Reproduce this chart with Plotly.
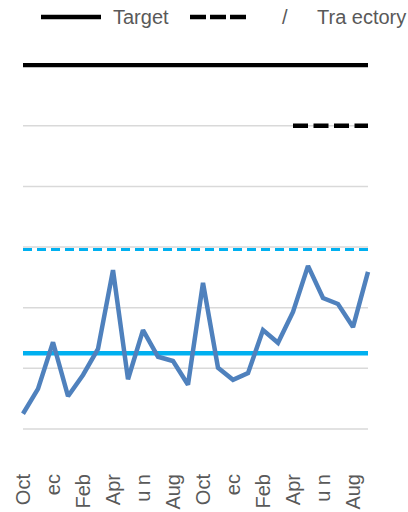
import plotly.graph_objects as go

# Monthly series, Oct through Sep of the following year (two years)
months = list(range(24))
actual = [0.25, 0.66, 1.43, 0.54, 0.89, 1.32, 2.62, 0.82, 1.63, 1.19, 1.12, 0.73,
          2.41, 1.01, 0.81, 0.92, 1.63, 1.42, 1.93, 2.69, 2.16, 2.06, 1.68, 2.59]
baseline_level = 1.25
interim_level = 2.96
target_level = 6.0
trajectory_level = 5.0
trajectory_start = 18

tick_positions = [0, 2, 4, 6, 8, 10, 12, 14, 16, 18, 20, 22]
tick_labels = ["Oct", "ec", "Feb", "Apr", "u n", "Aug",
               "Oct", "ec", "Feb", "Apr", "u n", "Aug"]
grid_levels = [0, 1, 2, 3, 4, 5, 6]

W, H = 408, 512
ML, MR, MT, MB = 20, 37, 53, 77
PW, PH = W - ML - MR, H - MT - MB
TEXT = "#595959"
FONT = "Liberation Sans, Arial, sans-serif"


def px(x):
    return (x - ML) / PW


def py(y):
    return (H - MB - y) / PH


fig = go.Figure()

fig.add_trace(go.Scatter(x=[months[0], months[-1]], y=[baseline_level] * 2, mode="lines",
                         line=dict(color="#00B0F0", width=4.5), hoverinfo="skip"))
fig.add_trace(go.Scatter(x=[months[0], months[-1]], y=[interim_level] * 2, mode="lines",
                         line=dict(color="#00B0F0", width=3, dash="9px,5px"), hoverinfo="skip"))
fig.add_trace(go.Scatter(x=[months[0], months[-1]], y=[target_level] * 2, mode="lines",
                         line=dict(color="#000000", width=4.3), name="Target"))
fig.add_trace(go.Scatter(x=[months[trajectory_start], months[-1]], y=[trajectory_level] * 2,
                         mode="lines", line=dict(color="#000000", width=4.3, dash="15px,5.5px"),
                         name="Trajectory"))
fig.add_trace(go.Scatter(x=months, y=actual, mode="lines",
                         line=dict(color="#4F81BD", width=4.5)))

shapes = []
for g in grid_levels:
    shapes.append(dict(type="line", xref="x", yref="y", x0=months[0], x1=months[-1], y0=g, y1=g,
                       line=dict(color="#D9D9D9", width=1.5), layer="below"))

# legend samples
shapes.append(dict(type="line", xref="paper", yref="paper", x0=px(41), x1=px(101),
                   y0=py(17), y1=py(17), line=dict(color="#000000", width=4.3)))
shapes.append(dict(type="line", xref="paper", yref="paper", x0=px(190), x1=px(246),
                   y0=py(17), y1=py(17), line=dict(color="#000000", width=4.3, dash="16px,4px")))

annotations = [
    dict(text="Target", xref="paper", yref="paper", x=px(111), y=py(17), xanchor="left",
         yanchor="middle", showarrow=False, font=dict(size=20, color=TEXT, family=FONT)),
    dict(text="/", xref="paper", yref="paper", x=px(285), y=py(17), xanchor="center",
         yanchor="middle", showarrow=False, font=dict(size=20, color=TEXT, family=FONT)),
    dict(text="Tra ectory", xref="paper", yref="paper", x=px(315), y=py(17), xanchor="left",
         yanchor="middle", showarrow=False, font=dict(size=20, color=TEXT, family=FONT)),
]

fig.update_layout(
    width=W, height=H,
    margin=dict(l=ML, r=MR, t=MT, b=MB, autoexpand=False),
    paper_bgcolor="white", plot_bgcolor="white",
    showlegend=False,
    shapes=shapes,
    annotations=annotations,
    xaxis=dict(range=[-0.2, 23.2], tickmode="array", tickvals=tick_positions,
               ticktext=tick_labels, tickangle=-90, showgrid=False, zeroline=False,
               showline=False, ticks="", ticklabelstandoff=34, automargin=False,
               tickfont=dict(size=20, color=TEXT, family=FONT)),
    yaxis=dict(range=[-0.1, 6.2], showgrid=False, zeroline=False, showline=False,
               showticklabels=False, ticks="", automargin=False),
)

fig.write_html("out.html")
